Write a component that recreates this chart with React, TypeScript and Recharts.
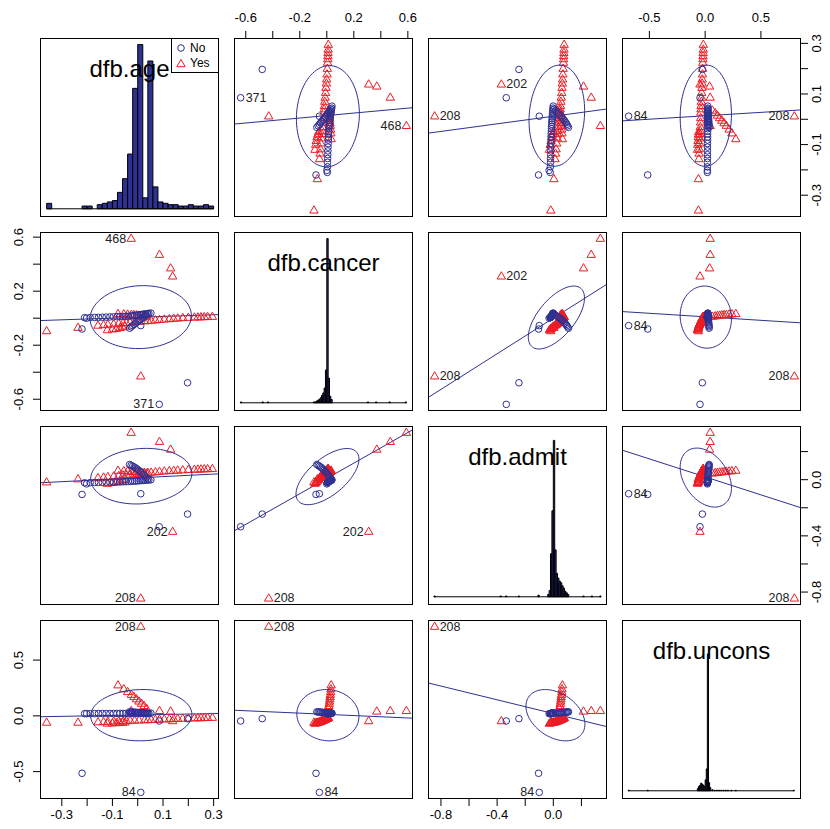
import React from "react";
import { ScatterChart, Scatter, XAxis, YAxis, ReferenceLine, ReferenceArea } from "recharts";

const BLUE = "#2E3192";
const RED = "#ED1C24";
const FONT = '"Liberation Sans", Arial, Helvetica, sans-serif';

const varNames = ["dfb.age", "dfb.cancer", "dfb.admit", "dfb.uncons"];

// ids printed next to the first five cases
const caseLabels = ["208", "84", "202", "371", "468"];

// 0 = No, 1 = Yes
const group = [
  1, 0, 1, 0, 1, 0, 1, 1, 0, 1, 1, 0,
  0, 0, 0, 0, 0, 0, 0, 0, 0, 0, 0, 0, 0, 0, 0, 0, 0, 0, 0, 0, 0, 0, 0, 0, 0,
  0, 0, 0, 0, 0, 0, 0, 0, 0, 0, 0, 0, 0,
  1, 1, 1, 1, 1, 1, 1, 1, 1, 1, 1, 1, 1, 1, 1, 1, 1, 1, 1, 1, 1, 1, 1, 1, 1, 1, 1,
  1, 1, 1, 1, 1, 1,
  1, 1, 1, 1, 1, 1, 1, 1, 1, 1,
];

const age = [
  0.012, 0.012, 0.138, 0.085, -0.026, 0.197, 0.086, 0.130, -0.220, -0.360, -0.236, -0.202,
  -0.210, -0.188, -0.170, -0.155, -0.140, -0.125, -0.110, -0.096, -0.082, -0.070, -0.058, -0.047, -0.037,
  -0.028, -0.020, -0.012, -0.005, 0.002, 0.009, 0.016, 0.023, 0.030, 0.037, 0.044, 0.052,
  0.040, 0.034, 0.028, 0.022, 0.016, 0.010, 0.004, -0.002, -0.008, -0.014, -0.020, -0.026, -0.032,
  -0.157, -0.135, -0.118, -0.095, -0.075, -0.058, -0.045, -0.030, -0.012, 0.005, 0.027, 0.040, 0.053,
  0.070, 0.086, 0.105, 0.125, 0.142, 0.158, 0.178, 0.200, 0.224, 0.238, 0.250, 0.263, 0.276, 0.295,
  -0.120, -0.100, -0.085, -0.070, -0.060, -0.050,
  0.035, 0.025, 0.015, 0.005, -0.005, -0.015, -0.025, -0.040, -0.055, -0.078,
];

const cancer = [
  -0.430, -0.055, 0.310, -0.638, 0.589, -0.478, 0.470, 0.370, -0.080, -0.095, -0.070, 0.000,
  0.004, 0.005, 0.005, 0.006, 0.007, 0.008, 0.009, 0.010, 0.011, 0.012, 0.013, 0.014, 0.015,
  0.016, 0.018, 0.020, 0.022, 0.024, 0.026, 0.028, 0.030, 0.032, 0.034, 0.036, 0.038,
  0.030, 0.022, 0.014, 0.006, -0.002, -0.010, -0.019, -0.028, -0.037, -0.046, -0.055, -0.064, -0.074,
  -0.054, -0.050, -0.047, -0.044, -0.040, -0.037, -0.035, -0.032, -0.029, -0.026, -0.022, -0.020, -0.018,
  -0.015, -0.012, -0.009, -0.006, -0.003, -0.001, 0.002, 0.004, 0.006, 0.007, 0.008, 0.009, 0.010, 0.011,
  -0.088, -0.082, -0.078, -0.072, -0.066, -0.060,
  0.012, 0.015, 0.018, 0.020, 0.022, 0.024, 0.026, 0.028, 0.030, 0.032,
];

const admit = [
  -0.845, -0.100, -0.370, -0.335, 0.335, -0.245, 0.270, 0.215, -0.105, -0.018, 0.004, -0.030,
  -0.022, -0.021, -0.020, -0.020, -0.019, -0.018, -0.018, -0.017, -0.016, -0.016, -0.015, -0.014, -0.013,
  -0.012, -0.011, -0.010, -0.009, -0.008, -0.007, -0.006, -0.005, -0.004, -0.003, -0.002, -0.001,
  0.005, 0.016, 0.027, 0.038, 0.048, 0.058, 0.067, 0.075, 0.083, 0.090, 0.096, 0.102, 0.108,
  0.012, 0.016, 0.020, 0.024, 0.028, 0.031, 0.034, 0.037, 0.040, 0.043, 0.047, 0.049, 0.051,
  0.054, 0.057, 0.060, 0.062, 0.064, 0.066, 0.068, 0.070, 0.072, 0.073, 0.074, 0.075, 0.076, 0.077,
  -0.028, -0.022, -0.016, -0.010, -0.004, 0.002,
  0.045, 0.048, 0.050, 0.052, 0.054, 0.056, 0.058, 0.060, 0.062, 0.065,
];

const uncons = [
  0.800, -0.686, -0.046, -0.046, 0.045, -0.025, 0.045, 0.040, -0.515, -0.060, -0.060, 0.020,
  0.020, 0.020, 0.020, 0.021, 0.021, 0.021, 0.021, 0.021, 0.022, 0.022, 0.022, 0.022, 0.022,
  0.022, 0.023, 0.023, 0.023, 0.023, 0.023, 0.023, 0.023, 0.024, 0.024, 0.024, 0.024,
  0.024, 0.025, 0.026, 0.027, 0.028, 0.029, 0.030, 0.031, 0.032, 0.033, 0.034, 0.035, 0.036,
  -0.056, -0.054, -0.052, -0.050, -0.048, -0.046, -0.045, -0.043, -0.041, -0.040, -0.038, -0.037, -0.036,
  -0.034, -0.032, -0.031, -0.029, -0.027, -0.026, -0.024, -0.023, -0.021, -0.020, -0.019, -0.018, -0.017, -0.016,
  -0.068, -0.066, -0.064, -0.062, -0.060, -0.058,
  0.065, 0.090, 0.110, 0.130, 0.150, 0.170, 0.190, 0.215, 0.240, 0.275,
];

// axis ticks, and which of them carry a label
const tickValues = [
  [-0.3, -0.2, -0.1, 0, 0.1, 0.2, 0.3],
  [-0.6, -0.4, -0.2, 0, 0.2, 0.4, 0.6],
  [-0.8, -0.6, -0.4, -0.2, 0, 0.2],
  [-0.5, 0, 0.5],
];
const tickLabels = [
  [-0.3, -0.1, 0.1, 0.3],
  [-0.6, -0.2, 0.2, 0.6],
  [-0.8, -0.4, 0],
  [-0.5, 0, 0.5],
];

// histograms on the diagonal: [left edge, count]
const histWidth = [0.02, 0.01, 0.01, 0.01];
const ageHist = [
  [-0.36, 4], [-0.22, 2], [-0.2, 2], [-0.16, 3], [-0.14, 4], [-0.12, 5], [-0.1, 6], [-0.08, 12],
  [-0.06, 22], [-0.04, 40], [-0.02, 88], [0.0, 120], [0.02, 8], [0.04, 108], [0.06, 16], [0.08, 5],
  [0.1, 4], [0.12, 3], [0.14, 3], [0.16, 2], [0.18, 2], [0.2, 3], [0.22, 2], [0.24, 2], [0.26, 3], [0.28, 2],
];
const cancerHist = [
  [-0.64, 1], [-0.48, 1], [-0.44, 1], [-0.1, 1], [-0.09, 1], [-0.08, 2], [-0.07, 3], [-0.06, 4],
  [-0.05, 6], [-0.04, 9], [-0.03, 12], [-0.02, 18], [-0.01, 40], [0.0, 200], [0.01, 30], [0.02, 8],
  [0.03, 4], [0.3, 1], [0.36, 1], [0.46, 1], [0.58, 1],
];
const admitHist = [
  [-0.85, 1], [-0.38, 1], [-0.34, 1], [-0.25, 1], [-0.11, 2], [-0.04, 3], [-0.03, 8], [-0.02, 55],
  [-0.01, 110], [0.0, 200], [0.01, 60], [0.02, 30], [0.03, 24], [0.04, 20], [0.05, 18], [0.06, 14],
  [0.07, 11], [0.08, 7], [0.09, 5], [0.1, 3], [0.21, 1], [0.27, 1], [0.33, 1],
];
const unconsHist = [
  [-0.69, 1], [-0.52, 1], [-0.07, 4], [-0.06, 8], [-0.05, 10], [-0.04, 14], [-0.03, 12], [-0.02, 10],
  [-0.01, 8], [0.0, 20], [0.01, 40], [0.02, 250], [0.03, 15], [0.04, 6], [0.06, 2], [0.08, 1],
  [0.1, 1], [0.12, 1], [0.14, 1], [0.16, 1], [0.18, 1], [0.2, 1], [0.23, 1], [0.27, 1], [0.79, 1],
];
const histTop = [120, 200, 210, 300];

// data ellipses per pair of variables: [a, b, centre a, centre b, half a, half b, r]
const ellipses = [
  [0, 1, 0.012, 0.008, 0.2, 0.233, 0.05],
  [0, 2, 0.014, 0.025, 0.2, 0.198, 0.1],
  [0, 3, 0.014, 0.006, 0.2, 0.23, 0.03],
  [1, 2, 0.005, 0.022, 0.233, 0.2, 0.62],
  [1, 3, 0.008, 0.006, 0.23, 0.23, -0.05],
  [2, 3, 0.015, 0.006, 0.21, 0.23, -0.35],
];

// least squares lines, row = y variable, column = x variable
const fitIntercept = [
  [0, 0.0147, 0.012, 0.0138],
  [0.0066, 0, 0.0002, 0.0102],
  [0.0128, 0.0089, 0, 0.02],
  [0.0079, 0.0134, 0.0207, 0],
];
const fitSlope = [
  [0, 0.049, 0.075, 0.027],
  [0.0625, 0, 0.659, -0.052],
  [0.09, 0.545, 0, -0.256],
  [0.041, -0.054, -0.308, 0],
];

const pairLabels: Record<string, string[]> = {
  "0-1": ["371", "468"],
  "0-2": ["202", "208"],
  "0-3": ["84", "208"],
  "1-2": ["202", "208"],
  "1-3": ["84", "208"],
  "2-3": ["84", "208"],
};

const columns = [age, cancer, admit, uncons];
const hists = [ageHist, cancerHist, admitHist, unconsHist];

const PW = 179;
const STEP = 194;
const X0 = 40;
const Y0 = 38;
const M = 40;
const AX = 30;

const domainOf = (v: number[]): [number, number] => {
  const lo = Math.min(...v);
  const hi = Math.max(...v);
  const pad = (hi - lo) * 0.04;
  return [lo - pad, hi + pad];
};
const domains = columns.map(domainOf);

const isLabelled = (v: number, list: number[]) => list.some((l) => Math.abs(l - v) < 1e-9);

const XTick = (props: any) => {
  const { x, y, payload, labels, top } = props;
  if (!isLabelled(payload.value, labels)) return <g />;
  return (
    <text x={x} y={top ? y - 9.5 : y + 13} textAnchor="middle" fontSize={13} fill="#000" fontFamily={FONT}>
      {payload.value.toFixed(1)}
    </text>
  );
};

const YTick = (props: any) => {
  const { x, y, payload, labels, right } = props;
  if (!isLabelled(payload.value, labels)) return <g />;
  const bx = right ? x + 13 : x - 10;
  return (
    <text x={bx} y={y} transform={`rotate(-90, ${bx}, ${y})`} textAnchor="middle" fontSize={13} fill="#000" fontFamily={FONT}>
      {payload.value.toFixed(1)}
    </text>
  );
};

const circleShape = (p: any) => (
  <circle cx={p.cx} cy={p.cy} r={3.3} fill="none" stroke={BLUE} strokeWidth={1} />
);
const triangleShape = (p: any) => (
  <path
    d={`M${p.cx},${p.cy - 4.6}L${p.cx + 4.2},${p.cy + 2.7}L${p.cx - 4.2},${p.cy + 2.7}Z`}
    fill="none"
    stroke={RED}
    strokeWidth={1}
  />
);
const emptyShape = () => <g />;
const labelShape = (p: any) => (
  <text
    x={p.cx + (p.payload.right ? 5 : -5)}
    y={p.cy}
    textAnchor={p.payload.right ? "start" : "end"}
    dominantBaseline="central"
    fontSize={12.5}
    fill="#222"
    fontFamily={FONT}
  >
    {p.payload.label}
  </text>
);

function ellipseFor(row: number, col: number) {
  const e = ellipses.find((q) => (q[0] === col && q[1] === row) || (q[0] === row && q[1] === col))!;
  const swap = e[0] !== col;
  const [, , ca, cb, ha, hb, r] = e;
  const pts = [];
  for (let k = 0; k <= 90; k++) {
    const t = (2 * Math.PI * k) / 90;
    const u = ca + ha * Math.cos(t);
    const v = cb + hb * (r * Math.cos(t) + Math.sqrt(1 - r * r) * Math.sin(t));
    pts.push(swap ? { x: v, y: u } : { x: u, y: v });
  }
  return pts;
}

function Panel({ row, col }: { row: number; col: number }) {
  const left = X0 + col * STEP;
  const top = Y0 + row * STEP;
  const showTop = row === 0 && col % 2 === 1;
  const showBottom = row === 3 && col % 2 === 0;
  const showLeft = col === 0 && row % 2 === 1;
  const showRight = col === 3 && row % 2 === 0;
  const margin = {
    top: M - (showTop ? AX : 0),
    bottom: M - (showBottom ? AX : 0),
    left: M - (showLeft ? AX : 0),
    right: M - (showRight ? AX : 0),
  };
  const xDom = domains[col];
  const diag = row === col;
  const yDom: [number, number] = diag ? [-0.05 * histTop[row], 1.04 * histTop[row]] : domains[row];

  let body: React.ReactNode[] = [];
  if (diag) {
    const bins = hists[row];
    const w = histWidth[row];
    body = [
      <Scatter key="s" data={bins.map((b) => ({ x: b[0], y: 0 }))} shape={emptyShape} isAnimationActive={false} />,
      <ReferenceLine
        key="base"
        segment={[{ x: bins[0][0], y: 0 }, { x: bins[bins.length - 1][0] + w, y: 0 }]}
        stroke="#000"
        strokeWidth={1}
      />,
      ...bins.map((b, i) => (
        <ReferenceArea
          key={`b${i}`}
          x1={b[0]}
          x2={b[0] + w}
          y1={0}
          y2={b[1]}
          fill={BLUE}
          fillOpacity={1}
          stroke="#000"
          strokeWidth={1}
        />
      )),
    ];
  } else {
    const xs = columns[col];
    const ys = columns[row];
    const noPts: { x: number; y: number }[] = [];
    const yesPts: { x: number; y: number }[] = [];
    xs.forEach((xv, i) => (group[i] ? yesPts : noPts).push({ x: xv, y: ys[i] }));
    const mid = (xDom[0] + xDom[1]) / 2;
    const key = `${Math.min(row, col)}-${Math.max(row, col)}`;
    const labelled = pairLabels[key].map((lab) => {
      const i = caseLabels.indexOf(lab);
      return { x: xs[i], y: ys[i], label: lab, right: xs[i] < mid };
    });
    const b0 = fitIntercept[row][col];
    const b1 = fitSlope[row][col];
    body = [
      <Scatter key="red" data={yesPts} shape={triangleShape} isAnimationActive={false} />,
      <Scatter key="blue" data={noPts} shape={circleShape} isAnimationActive={false} />,
      <ReferenceLine
        key="fit"
        segment={[{ x: xDom[0], y: b0 + b1 * xDom[0] }, { x: xDom[1], y: b0 + b1 * xDom[1] }]}
        stroke={BLUE}
        strokeWidth={1}
        ifOverflow="hidden"
      />,
      <Scatter
        key="ell"
        data={ellipseFor(row, col)}
        line={{ stroke: BLUE, strokeWidth: 1 }}
        lineType="joint"
        shape={emptyShape}
        isAnimationActive={false}
      />,
      <Scatter key="lab" data={labelled} shape={labelShape} isAnimationActive={false} />,
    ];
  }

  return (
    <>
      <div style={{ position: "absolute", left: left - M, top: top - M }}>
        <ScatterChart width={PW + 2 * M} height={PW + 2 * M} margin={margin}>
          <XAxis
            type="number"
            dataKey="x"
            domain={xDom}
            allowDataOverflow
            ticks={tickValues[col]}
            interval={0}
            orientation={showTop ? "top" : "bottom"}
            hide={!(showTop || showBottom)}
            height={AX}
            axisLine={false}
            tickLine={{ stroke: "#000" }}
            tickSize={7}
            tickMargin={0}
            tick={<XTick labels={tickLabels[col]} top={showTop} />}
          />
          <YAxis
            type="number"
            dataKey="y"
            domain={yDom}
            allowDataOverflow
            ticks={diag ? undefined : tickValues[row]}
            interval={0}
            orientation={showRight ? "right" : "left"}
            hide={!(showLeft || showRight)}
            width={AX}
            axisLine={false}
            tickLine={{ stroke: "#000" }}
            tickSize={7}
            tickMargin={0}
            tick={<YTick labels={tickLabels[row]} right={showRight} />}
          />
          {body}
        </ScatterChart>
      </div>
      <div
        style={{
          position: "absolute",
          left,
          top,
          width: PW,
          height: PW,
          border: "1px solid #000",
          boxSizing: "border-box",
          pointerEvents: "none",
        }}
      />
      {diag && (
        <div
          style={{
            position: "absolute",
            left,
            top: top + 17,
            width: PW,
            textAlign: "center",
            fontSize: 24,
            lineHeight: "28px",
            color: "#000",
          }}
        >
          {varNames[row]}
        </div>
      )}
    </>
  );
}

const Legend = () => (
  <div
    style={{
      position: "absolute",
      left: 171,
      top: 38,
      width: 48,
      height: 35,
      border: "1px solid #000",
      boxSizing: "border-box",
      background: "#fff",
      fontSize: 12,
    }}
  >
    <svg width={46} height={33} style={{ position: "absolute", left: 0, top: 0 }}>
      <circle cx={9} cy={9} r={3.3} fill="none" stroke={BLUE} />
      <path d="M9,20.4L13.2,27.7L4.8,27.7Z" fill="none" stroke={RED} />
      <text x={18} y={9} dominantBaseline="central" fontSize={12} fontFamily={FONT}>No</text>
      <text x={18} y={24} dominantBaseline="central" fontSize={12} fontFamily={FONT}>Yes</text>
    </svg>
  </div>
);

export default function App() {
  const cells = [];
  for (let r = 0; r < 4; r++) for (let c = 0; c < 4; c++) cells.push(<Panel key={`${r}-${c}`} row={r} col={c} />);
  return (
    <div
      style={{
        position: "absolute",
        left: 0,
        top: 0,
        width: 830,
        height: 829,
        background: "#fff",
        fontFamily: FONT,
        overflow: "hidden",
      }}
    >
      {cells}
      <Legend />
    </div>
  );
}
